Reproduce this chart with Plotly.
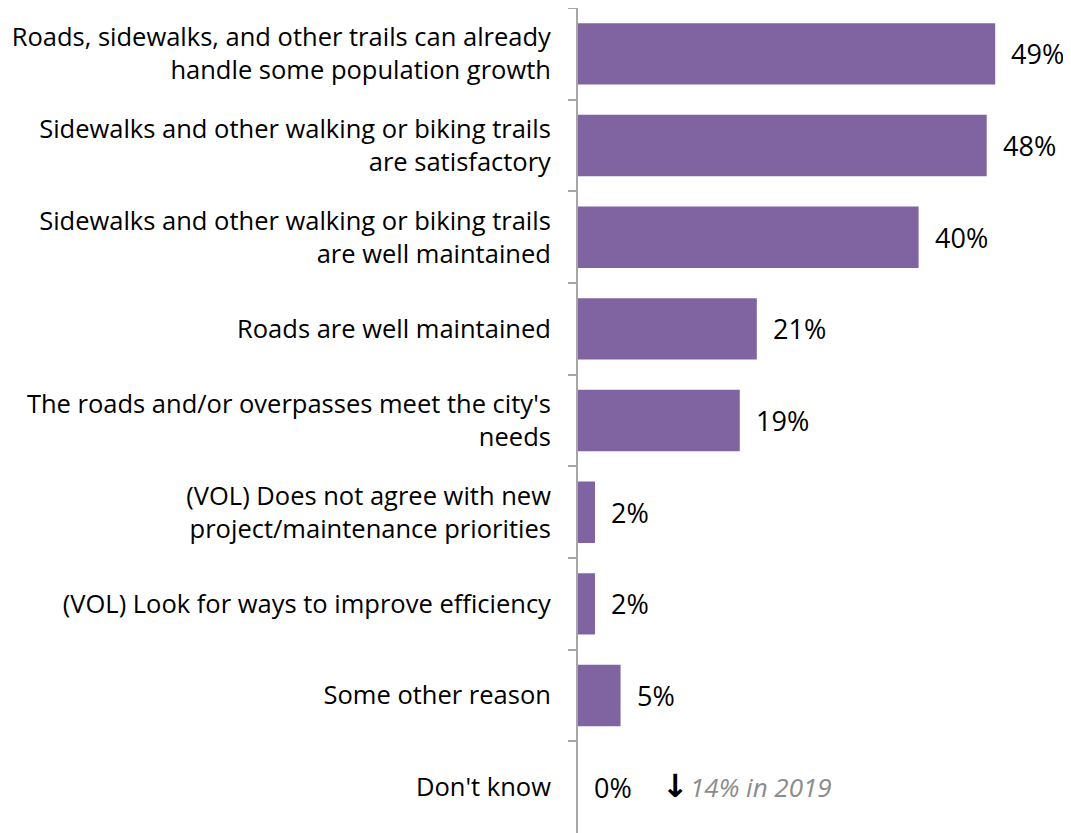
import plotly.graph_objects as go

categories = [
    "Roads, sidewalks, and other trails can already<br>handle some population growth",
    "Sidewalks and other walking or biking trails<br>are satisfactory",
    "Sidewalks and other walking or biking trails<br>are well maintained",
    "Roads are well maintained",
    "The roads and/or overpasses meet the city's<br>needs",
    "(VOL) Does not agree with new<br>project/maintenance priorities",
    "(VOL) Look for ways to improve efficiency",
    "Some other reason",
    "Don't know",
]
values = [49, 48, 40, 21, 19, 2, 2, 5, 0]
value_labels = ["49%", "48%", "40%", "21%", "19%", "2%", "2%", "5%", "0%"]
note_2019 = "14% in 2019"

FONT = "Open Sans"
BAR_COLOR = "#8064A2"

fig = go.Figure()
fig.add_trace(go.Bar(
    y=categories, x=values, orientation="h",
    marker=dict(color=BAR_COLOR, line=dict(width=0)),
    hoverinfo="skip",
))

for c, v, lab in zip(categories, values, value_labels):
    fig.add_annotation(x=v, y=c, text=lab, showarrow=False, xanchor="left",
                       xshift=14, font=dict(family=FONT, size=27, color="#000000"))

fig.add_annotation(x=0, y=categories[-1], xanchor="left", xshift=82, yshift=1, showarrow=False,
                   text="<b>↓</b>", font=dict(family="DejaVu Sans", size=32, color="#000000"))
fig.add_annotation(x=0, y=categories[-1], xanchor="left", xshift=110, showarrow=False,
                   text="<i>" + note_2019 + "</i>",
                   font=dict(family=FONT, size=26, color="#8C8C8C"))

fig.update_layout(
    width=1063, height=825,
    margin=dict(l=570, r=0, t=0, b=0),
    plot_bgcolor="white", paper_bgcolor="white",
    bargap=0.33, showlegend=False,
    font=dict(family=FONT, size=25.5, color="#000000"),
)
fig.update_xaxes(range=[0, 57.9], visible=False, showgrid=False, zeroline=False)
fig.update_yaxes(
    autorange="reversed", showline=True, linecolor="#A6A6A6", linewidth=2,
    ticks="outside", ticklen=8, tickcolor="#A6A6A6", tickwidth=2,
    tickson="boundaries", ticklabelstandoff=20, showgrid=False,
    tickfont=dict(family=FONT, size=25.5, color="#000000"),
)

fig.write_html("out.html")
